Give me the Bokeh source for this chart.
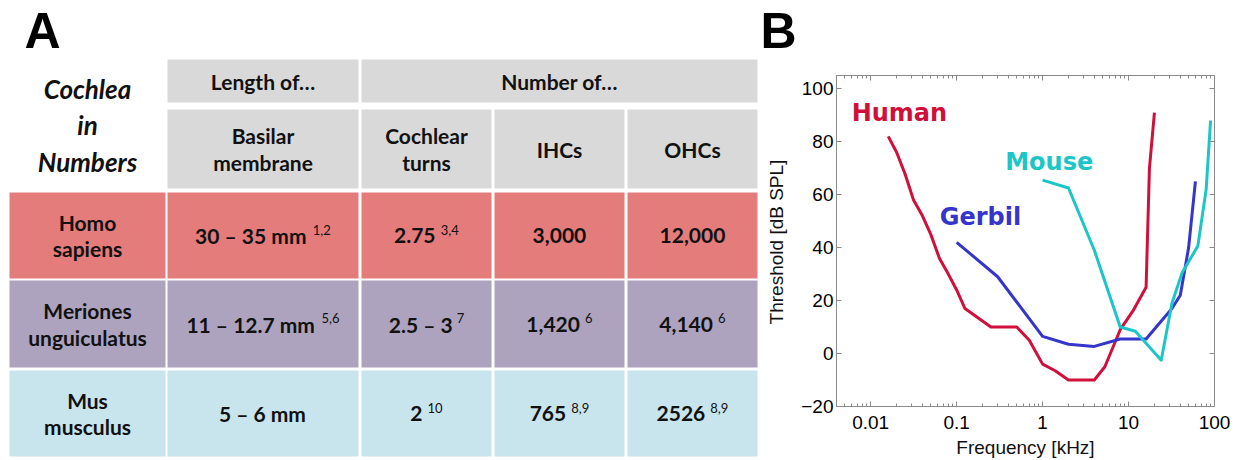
import math
from bokeh.plotting import figure
from bokeh.layouts import row, column
from bokeh.models import (FixedTicker, NumeralTickFormatter, LinearAxis, LogAxis,
                          Label, Range1d)
from bokeh.core.properties import value
from bokeh.embed import file_html
from bokeh.resources import INLINE

# ---------------- Panel A: cochlea in numbers ----------------
corner_title = "Cochlea\nin\nNumbers"
group_headers = ["Length of…", "Number of…"]
column_headers = ["Basilar\nmembrane", "Cochlear\nturns", "IHCs", "OHCs"]

species = ["Homo\nsapiens", "Meriones\nunguiculatus", "Mus\nmusculus"]
basilar_length = ["30 – 35 mm", "11 – 12.7 mm", "5 – 6 mm"]
basilar_refs = ["1,2", "5,6", ""]
cochlear_turns = ["2.75", "2.5 – 3", "2"]
turns_refs = ["3,4", "7", "10"]
ihc_count = ["3,000", "1,420", "765"]
ihc_refs = ["", "6", "8,9"]
ohc_count = ["12,000", "4,140", "2526"]
ohc_refs = ["", "6", "8,9"]
row_colors = ["#e47c7c", "#ada3be", "#c8e4ec"]
header_color = "#d9d9d9"

# ---------------- Panel B: hearing thresholds ----------------
curve_names = ["Human", "Gerbil", "Mouse"]
curve_colors = ["#d0103a", "#3535cc", "#1cc6c6"]

human_freq = [0.016, 0.02, 0.025, 0.0315, 0.04, 0.05, 0.063, 0.08, 0.1, 0.125,
              0.25, 0.5, 0.7, 1, 1.4, 2, 4, 5.3, 8, 11.2, 16, 17.5, 20]
human_db = [82, 76, 68, 58, 52, 45, 36, 30, 24, 17,
            10, 10, 5, -4, -6.5, -10, -10, -5, 9, 16, 25, 70, 91]

gerbil_freq = [0.1, 0.3, 1, 2, 4, 8, 16, 32, 40, 50, 60]
gerbil_db = [42, 29, 6.5, 3.5, 2.7, 5.5, 5.5, 17, 22, 40, 65]

mouse_freq = [1, 2, 4, 8, 12, 24, 32, 42, 64, 80, 90]
mouse_db = [65.5, 62.5, 39, 10, 8.4, -2.5, 19, 30.5, 40.6, 62, 88]

curves_freq = [human_freq, gerbil_freq, mouse_freq]
curves_db = [human_db, gerbil_db, mouse_db]
# where each curve's name is written (frequency, threshold)
label_freq = [0.006, 0.0635, 0.367]
label_db = [90.7, 51.4, 72.4]

x_ticks = [0.01, 0.1, 1, 10, 100]
y_ticks = [-20, 0, 20, 40, 60, 80, 100]
x_title = "Frequency [kHz]"
y_title = "Threshold [dB SPL]"

TABLE_FONT = value("Lato")
AX_FONT = "Liberation Sans"
CELL_SIZE = 21
SUP_SIZE = 13

# approximate advance widths of Lato Bold (in em) used to centre value + reference
_W = {"0": .58, "1": .58, "2": .58, "3": .58, "4": .58, "5": .58, "6": .58,
      "7": .58, "8": .58, "9": .58, " ": .2, "–": .6, ".": .25, ",": .24,
      "m": .92}


def text_width(s, size):
    return sum(_W.get(ch, .55) for ch in s) * size


# ---------- left figure: table, panel letters, y title of the graph ----------
W1, H = 798, 460
p1 = figure(width=W1, height=H, x_range=Range1d(0, W1), y_range=Range1d(H, 0),
            toolbar_location=None, output_backend="svg", min_border=0, title=None)
p1.axis.visible = False
p1.grid.visible = False
p1.outline_line_color = None
p1.background_fill_color = "white"

col_left = [9, 167, 361, 494, 627]
col_right = [165, 358, 491, 624, 757]
head1 = (59, 102)
head2 = (109, 188)
rows = [(192, 278), (280, 367), (370, 456)]

# header cells
p1.quad(left=[col_left[1], col_left[2]], right=[col_right[1], col_right[4]],
        top=[head1[0]] * 2, bottom=[head1[1]] * 2,
        fill_color=header_color, line_color=None)
p1.quad(left=col_left[1:], right=col_right[1:], top=[head2[0]] * 4,
        bottom=[head2[1]] * 4, fill_color=header_color, line_color=None)

# body cells
for (t, b), c in zip(rows, row_colors):
    p1.quad(left=col_left, right=col_right, top=[t] * 5, bottom=[b] * 5,
            fill_color=c, line_color=None)

text_kw = dict(text_font=TABLE_FONT, text_font_style="bold", text_color="#111111",
               text_align="center", text_baseline="middle")

# corner title
p1.text(x=[(col_left[0] + col_right[0]) / 2], y=[125], text=[corner_title],
        text_font_size="26px", text_line_height=1.13,
        **{**text_kw, "text_font_style": "bold italic"})

# group header row
p1.text(x=[(col_left[1] + col_right[1]) / 2, (col_left[2] + col_right[4]) / 2],
        y=[(head1[0] + head1[1]) / 2] * 2, text=group_headers,
        text_font_size=f"{CELL_SIZE}px", **text_kw)

# column header row
p1.text(x=[(l + r) / 2 for l, r in zip(col_left[1:], col_right[1:])],
        y=[(head2[0] + head2[1]) / 2] * 4, text=column_headers,
        text_font_size=f"{CELL_SIZE}px", text_line_height=1.07, **text_kw)

# species names
p1.text(x=[(col_left[0] + col_right[0]) / 2] * 3,
        y=[(t + b) / 2 for t, b in rows], text=species,
        text_font_size=f"{CELL_SIZE}px", text_line_height=1.07, **text_kw)

# values with superscript references, centred as a unit
columns = [(basilar_length, basilar_refs), (cochlear_turns, turns_refs),
           (ihc_count, ihc_refs), (ohc_count, ohc_refs)]
main_x, main_y, main_t = [], [], []
sup_x, sup_y, sup_t = [], [], []
for ci, (vals, refs) in enumerate(columns):
    cx = (col_left[ci + 1] + col_right[ci + 1]) / 2
    for ri, (v, r) in enumerate(zip(vals, refs)):
        cy = (rows[ri][0] + rows[ri][1]) / 2
        wm = text_width(v, CELL_SIZE)
        ws = text_width(r, SUP_SIZE) + 5 if r else 0
        x0 = cx - (wm + ws) / 2
        main_x.append(x0)
        main_y.append(cy)
        main_t.append(v)
        if r:
            sup_x.append(x0 + wm + 5)
            sup_y.append(cy - 6)
            sup_t.append(r)

p1.text(x=main_x, y=main_y, text=main_t, text_font_size=f"{CELL_SIZE}px",
        **{**text_kw, "text_align": "left"})
p1.text(x=sup_x, y=sup_y, text=sup_t, text_font_size=f"{SUP_SIZE}px",
        **{**text_kw, "text_align": "left", "text_font_style": "normal"})

# panel letters
p1.text(x=[24, 760], y=[30, 30], text=["A", "B"], text_font=value("Liberation Sans"),
        text_font_style="bold", text_font_size="50px", text_color="black",
        text_align="left", text_baseline="alphabetic")

# vertical title of the threshold graph (sits just left of its tick labels)
FRAME_TOP, FRAME_BOTTOM = 75, 408
p1.text(x=[776], y=[(FRAME_TOP + FRAME_BOTTOM) / 2], text=[y_title],
        angle=math.pi / 2, text_font=value(AX_FONT), text_font_size="19px",
        text_color="#111111", text_align="center", text_baseline="middle")

# ---------- right figure: hearing thresholds ----------
GRAY = "#8a8a8a"
p2 = figure(width=1236 - W1, height=H, x_axis_type="log",
            x_range=Range1d(0.004, 100), y_range=Range1d(-20, 105),
            toolbar_location=None, output_backend="svg", title=None,
            min_border_left=35, min_border_right=22, min_border_top=FRAME_TOP,
            min_border_bottom=H - FRAME_BOTTOM)
p2.grid.visible = False
p2.outline_line_color = GRAY
p2.background_fill_color = "white"

minor_x = [m * 10.0 ** e for e in range(-3, 2) for m in range(2, 10)]
xt = FixedTicker(ticks=x_ticks, minor_ticks=minor_x)
yt = FixedTicker(ticks=y_ticks, minor_ticks=[])

xa = p2.xaxis[0]
xa.ticker = xt
xa.formatter = NumeralTickFormatter(format="0.[00]")
xa.axis_label = x_title
ya = p2.yaxis[0]
ya.ticker = yt

# mirrored tick marks on the top and right edges (labels hidden)
top_axis = LogAxis(ticker=xt, major_label_text_font_size="1px",
                   major_label_text_color=None)
right_axis = LinearAxis(ticker=yt, major_label_text_font_size="1px",
                        major_label_text_color=None)
p2.add_layout(top_axis, "above")
p2.add_layout(right_axis, "right")

for ax in (xa, ya, top_axis, right_axis):
    ax.axis_line_color = GRAY
    ax.major_tick_line_color = GRAY
    ax.minor_tick_line_color = GRAY
    ax.major_tick_in = 5
    ax.major_tick_out = 0
    ax.minor_tick_in = 3
    ax.minor_tick_out = 0
    ax.major_label_standoff = 5
for ax in (xa, ya):
    ax.major_label_text_font = AX_FONT
    ax.major_label_text_font_size = "19px"
    ax.major_label_text_color = "black"
xa.axis_label_text_font = AX_FONT
xa.axis_label_text_font_size = "19px"
xa.axis_label_text_font_style = "normal"
xa.axis_label_text_color = "#111111"
xa.major_label_standoff = 9
xa.axis_label_standoff = 5
ya.major_label_standoff = 3
right_axis.minor_tick_line_color = None
top_axis.major_label_standoff = 0
right_axis.major_label_standoff = 0

for fx, fy, col in zip(curves_freq, curves_db, curve_colors):
    p2.line(fx, fy, line_color=col, line_width=3, line_join="round")

for name, lx, ly, col in zip(curve_names, label_freq, label_db, curve_colors):
    p2.add_layout(Label(x=lx, y=ly, text=name, text_color=col,
                        text_font="DejaVu Sans", text_font_style="bold",
                        text_font_size="24px", text_align="left",
                        text_baseline="middle"))

layout = row(column(p1), column(p2), spacing=0)
open("out.html", "w").write(file_html(layout, INLINE))
